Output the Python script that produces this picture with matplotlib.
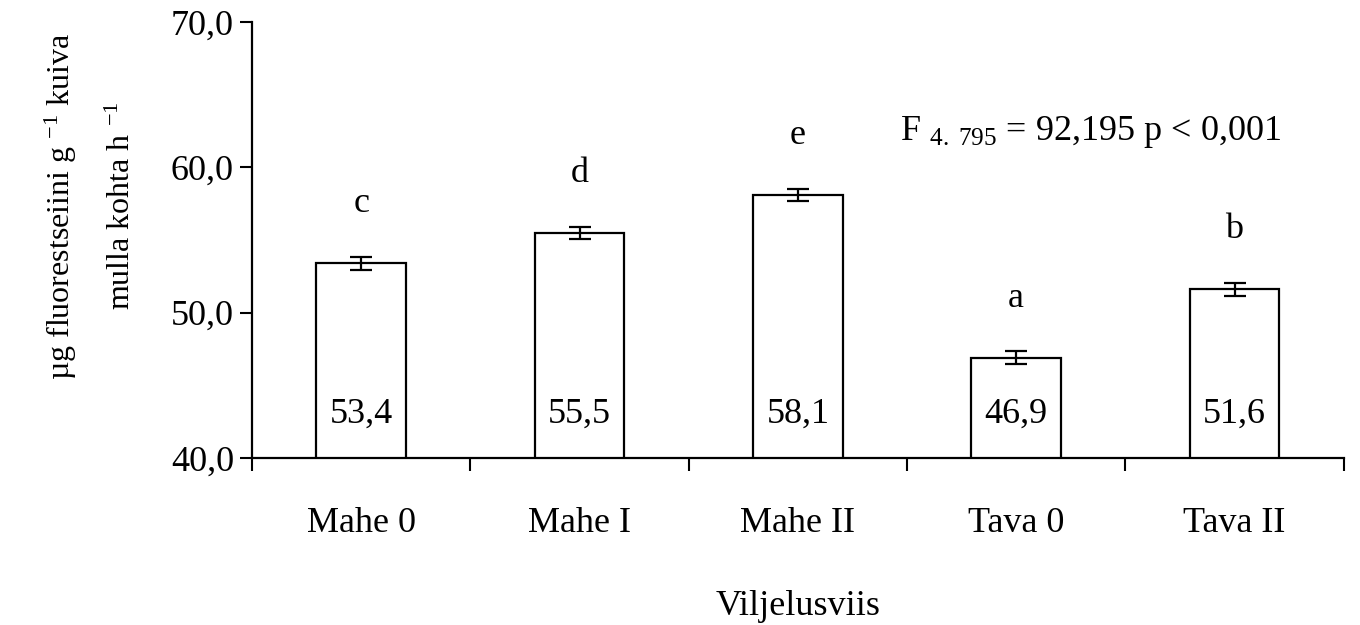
import numpy as np
import matplotlib
matplotlib.use("Agg")
import matplotlib.pyplot as plt
from matplotlib.ticker import FixedLocator, FuncFormatter

plt.rcParams['font.family'] = ['Liberation Serif', 'DejaVu Serif']
plt.rcParams['mathtext.fontset'] = 'custom'
plt.rcParams['mathtext.rm'] = 'Liberation Serif'
plt.rcParams['mathtext.it'] = 'Liberation Serif:italic'

categories = ['Mahe 0', 'Mahe I', 'Mahe II', 'Tava 0', 'Tava II']
values = [53.4, 55.5, 58.1, 46.9, 51.6]
errors = [0.45, 0.4, 0.4, 0.45, 0.45]
letters = ['c', 'd', 'e', 'a', 'b']
value_labels = ['53,4', '55,5', '58,1', '46,9', '51,6']

fs = 26
fig = plt.figure(figsize=(13.6, 6.25), dpi=100)
ax = fig.add_axes([0.1853, 0.2672, 0.8027, 0.6976])

x = np.arange(len(categories))
ax.bar(x, values, width=0.41, bottom=0, color='white', edgecolor='black', linewidth=1.6,
       yerr=errors, error_kw=dict(ecolor='black', elinewidth=1.6, capsize=8, capthick=1.6))

for xi, v, let, lab in zip(x, values, letters, value_labels):
    ax.text(xi, v + 4.1, let, ha='center', va='center', fontsize=fs)
    ax.text(xi, 43.0, lab, ha='center', va='center', fontsize=fs)

ax.text(3.34, 62.4, r'F $_{\mathrm{4.\ 795}}$ = 92,195 p < 0,001', ha='center', va='center', fontsize=fs)

ax.set_ylim(40, 70)
ax.set_xlim(-0.5, 4.5)
ax.set_yticks([40, 50, 60, 70])
ax.yaxis.set_major_formatter(FuncFormatter(lambda v, p: f'{v:.1f}'.replace('.', ',')))
ax.set_xticks(x)
ax.set_xticklabels(categories)
ax.xaxis.set_minor_locator(FixedLocator(np.arange(-0.5, 5.0, 1.0)))
ax.tick_params(axis='x', which='major', length=0, pad=35, labelsize=fs)
ax.tick_params(axis='x', which='minor', length=9, width=1.5, direction='out')
ax.tick_params(axis='y', length=9, width=1.5, direction='out', pad=4, labelsize=fs)

for s in ['top', 'right']:
    ax.spines[s].set_visible(False)
for s in ['left', 'bottom']:
    ax.spines[s].set_linewidth(1.6)

ax.set_xlabel('Viljelusviis', fontsize=fs, labelpad=36)

fig.text(90 / 1360, 1 - 206 / 625, 'µg fluorestseiini g $^{-1}$ kuiva\nmulla kohta h $^{-1}$',
         rotation=90, ha='center', va='center', fontsize=23, linespacing=2.3, multialignment='center')

fig.savefig('out.png', dpi=100, facecolor='white')
